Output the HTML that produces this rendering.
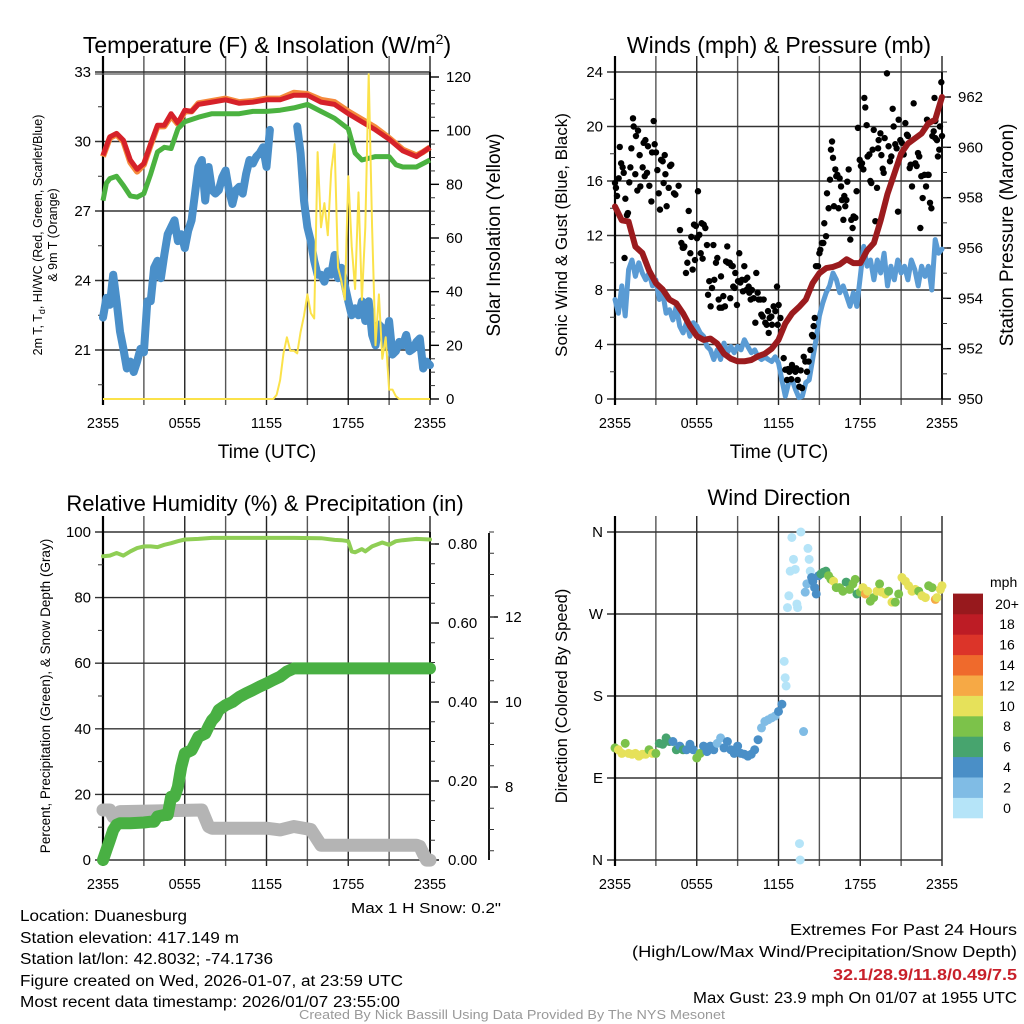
<!DOCTYPE html>
<html><head><meta charset="utf-8"><style>
html,body{margin:0;padding:0;background:#fff;}
svg{display:block;font-family:"Liberation Sans",Arial,sans-serif;}
</style></head><body>
<svg id="fig" width="1024" height="1024" viewBox="0 0 1024 1024" xmlns="http://www.w3.org/2000/svg">
<rect width="1024" height="1024" fill="#fff"/>
<g id="g-temp"></g>
<g id="g-wind"></g>
<g id="g-rh"></g>
<g id="g-dir"></g>

<text x="267" y="53" font-size="23" text-anchor="middle">Temperature (F) &amp; Insolation (W/m<tspan font-size="14" dy="-9">2</tspan><tspan dy="9">)</tspan></text>
<text x="779" y="53" font-size="23" text-anchor="middle">Winds (mph) &amp; Pressure (mb)</text>
<text x="265" y="511" font-size="22" text-anchor="middle">Relative Humidity (%) &amp; Precipitation (in)</text>
<text x="779" y="505" font-size="22" text-anchor="middle">Wind Direction</text>

<text x="267" y="458" font-size="19" text-anchor="middle">Time (UTC)</text>
<text x="779" y="458" font-size="19" text-anchor="middle">Time (UTC)</text>

<text transform="translate(42,235) rotate(-90)" font-size="12.5" text-anchor="middle">2m T, T<tspan font-size="9" dy="3">d</tspan><tspan dy="-3">, HI/WC (Red, Green, Scarlet/Blue)</tspan></text>
<text transform="translate(57,235) rotate(-90)" font-size="12.5" text-anchor="middle">&amp; 9m T (Orange)</text>
<text transform="translate(500,235) rotate(-90)" font-size="19" text-anchor="middle">Solar Insolation (Yellow)</text>
<text transform="translate(567,235) rotate(-90)" font-size="17" text-anchor="middle">Sonic Wind &amp; Gust (Blue, Black)</text>
<text transform="translate(1013,235) rotate(-90)" font-size="19" text-anchor="middle">Station Pressure (Maroon)</text>
<text transform="translate(50,696) rotate(-90)" font-size="13.5" text-anchor="middle">Percent, Precipitation (Green), &amp; Snow Depth (Gray)</text>
<text transform="translate(567,696) rotate(-90)" font-size="16.5" text-anchor="middle">Direction (Colored By Speed)</text>

<text x="501" y="913" font-size="15" text-anchor="end" textLength="150" lengthAdjust="spacingAndGlyphs">Max 1 H Snow: 0.2"</text>
<g font-size="15.5">
<text x="20" y="921" textLength="167" lengthAdjust="spacingAndGlyphs">Location: Duanesburg</text>
<text x="20" y="943" textLength="219" lengthAdjust="spacingAndGlyphs">Station elevation: 417.149 m</text>
<text x="20" y="964" textLength="253" lengthAdjust="spacingAndGlyphs">Station lat/lon: 42.8032; -74.1736</text>
<text x="20" y="986" textLength="383" lengthAdjust="spacingAndGlyphs">Figure created on Wed, 2026-01-07, at 23:59 UTC</text>
<text x="20" y="1007" textLength="380" lengthAdjust="spacingAndGlyphs">Most recent data timestamp: 2026/01/07 23:55:00</text>
</g>
<g font-size="16" text-anchor="end">
<text x="1017" y="935" textLength="227" lengthAdjust="spacingAndGlyphs">Extremes For Past 24 Hours</text>
<text x="1017" y="957" textLength="385" lengthAdjust="spacingAndGlyphs">(High/Low/Max Wind/Precipitation/Snow Depth)</text>
<text x="1017" y="980" font-weight="bold" fill="#c8202a" textLength="184" lengthAdjust="spacingAndGlyphs">32.1/28.9/11.8/0.49/7.5</text>
<text x="1017" y="1003" font-size="15.5" textLength="324" lengthAdjust="spacingAndGlyphs">Max Gust: 23.9 mph On 01/07 at 1955 UTC</text>
</g>
<text x="512" y="1019" font-size="12.5" fill="#999" text-anchor="middle" textLength="426" lengthAdjust="spacingAndGlyphs">Created By Nick Bassill Using Data Provided By The NYS Mesonet</text>
</svg>
<script>
// ---------- DATA ----------
const xTickLabels = ["2355","0555","1155","1755","2355"];
const xTickHours = [0,6,12,18,24];

const tempHours = [0,0.5,1,1.5,2,2.5,3,3.5,4,4.5,5,5.5,6,6.5,7,8,9,10,11,12,13,14,15,16,17,18,19,20,21,22,23,23.5,24];
const tempValues = [29.4,30.2,30.35,30.05,29.2,28.8,29.05,29.9,30.7,30.7,31.2,30.8,31.35,31.3,31.6,31.7,31.8,31.65,31.7,31.8,31.8,32.0,32.0,31.7,31.6,31.2,30.85,30.5,30.1,29.6,29.35,29.55,29.75];
const temp9mValues = [29.35,30.15,30.3,30.0,29.1,28.7,29.0,29.85,30.65,30.65,31.1,30.75,31.3,31.3,31.65,31.75,31.85,31.7,31.75,31.85,31.85,32.1,32.05,31.8,31.7,31.3,30.95,30.6,30.15,29.65,29.4,29.55,29.75];
const dewHours = [0,0.25,0.5,1,1.5,2,2.5,3,3.5,4,4.5,5,5.5,6,7,8,9,10,11,12,13,14,15,16,17,18,18.5,19,20,21,21.5,22,23,23.5,24];
const dewValues = [27.45,28.2,28.4,28.5,28.1,27.65,27.6,27.75,28.6,29.55,29.75,29.7,30.55,30.85,31.05,31.2,31.2,31.2,31.3,31.3,31.35,31.45,31.6,31.3,31.0,30.55,29.5,29.2,29.35,29.35,29.0,28.9,28.9,29.05,29.2];
const chillStep = 0.25;
const chillValues = [22.4,23.25,22.95,24.25,23.1,21.8,21.05,20.2,20.5,20.05,20.5,21.05,20.9,23.1,23.1,24.55,24.85,24.1,25.1,26.0,26.3,26.6,25.7,26.0,25.4,26.15,26.6,27.75,28.9,29.2,27.45,28.9,27.9,27.75,27.9,28.45,28.75,27.9,27.3,27.9,28.05,27.75,28.6,29.2,29.05,29.35,29.5,29.75,28.9,30.5,
null,null,null,null,null,null,null,
30.65,29.5,27.45,26.3,25.7,24.85,24.25,24.25,23.95,24.4,24.25,25.1,24.1,24.55,23.8,23.1,22.5,22.8,22.5,23.1,22.25,23.1,21.65,21.2,22.1,21.95,21.2,22.25,20.8,20.95,21.35,21.2,21.65,20.95,21.05,21.35,21.5,20.2,20.5,20.35];
const solarHours = [0,12.5,12.75,13,13.25,13.5,13.75,14,14.25,14.5,14.75,15,15.25,15.5,15.75,16,16.25,16.5,16.75,17,17.25,17.5,17.75,18,18.25,18.5,18.75,19,19.25,19.5,19.75,20,20.25,20.5,20.75,21,21.25,21.5,21.75,24];
const solarValues = [0,0,1.6,7,17,23,18,18,17,25,31,39,32,30,92,64,73,61,85,95,49,44,37,83,57,41,77,37,64,121,64,20,39,15,23,3.5,3.5,1,0,0];

const windStep = 0.25;
const windValues = [7.3,6.3,8.3,6.1,9.5,10.2,9.0,10.0,9.25,8.75,9.25,8.3,8.75,7.3,7.8,6.3,6.55,5.8,6.8,5.35,4.85,5.6,4.6,5.6,5.35,4.85,4.6,3.85,3.6,2.9,3.6,2.9,4.1,3.4,3.85,3.4,3.85,3.6,4.35,3.85,3.4,3.6,3.1,2.9,3.1,2.9,2.75,3.1,2.65,1.4,0.2,1.2,1.4,0.7,0.1,0.2,1.2,1.4,2.9,4.35,6.1,7.05,7.8,8.3,9.25,8.75,7.8,8.3,7.55,6.8,7.8,6.8,9.0,11.2,9.75,10.2,8.75,10.2,9.25,10.7,8.3,9.75,8.75,10.2,9.25,9.75,8.75,10.2,9.5,8.3,9.75,9.0,9.75,8.0,11.7,10.7,11.0];
const presHours = [0,0.5,1,1.5,2,2.5,3,3.5,4,4.5,5,5.5,6,6.5,7,7.5,8,8.5,9,9.5,10,10.5,11,11.5,12,12.5,13,13.5,14,14.5,15,15.5,16,16.5,17,17.5,18,18.5,19,19.5,20,20.5,21,21.5,22,22.5,23,23.5,24];
const presValues = [957.65,957.1,957.05,956.05,955.8,955.1,954.6,954.35,953.95,953.8,953.4,952.9,952.5,952.35,952.4,952.2,951.8,951.6,951.5,951.5,951.55,951.7,951.8,952.0,952.35,953.0,953.4,953.65,953.95,954.6,955.0,955.2,955.25,955.35,955.55,955.4,955.4,955.9,956.2,957.1,958.15,958.95,959.75,960.15,960.35,960.55,960.95,961.1,962.0];
const gustObs = [[0,15.85],[0.07,15.5],[0.15,14.9],[0.27,16.2],[0.35,18.5],[0.45,17.3],[0.56,17.0],[0.64,16.6],[0.7,10.35],[0.76,14.7],[0.88,13.5],[0.95,13.65],[1.05,15.9],[1.13,17.0],[1.2,18.4],[1.32,20.6],[1.37,20.0],[1.49,16.5],[1.54,19.3],[1.69,19.7],[1.64,15.3],[1.81,17.9],[1.86,15.6],[2.03,17.0],[2.1,18.8],[2.18,16.35],[2.23,19.0],[2.35,16.6],[2.42,18.55],[2.52,15.65],[2.67,14.5],[2.72,18.1],[2.84,20.4],[2.91,18.7],[3.01,18.1],[3.11,16.8],[3.21,15.1],[3.3,13.9],[3.38,17.55],[3.5,17.45],[3.57,15.85],[3.65,17.9],[3.7,16.5],[3.79,14.15],[3.94,15.5],[4.04,17.1],[4.13,17.2],[4.33,15.1],[4.43,15.0],[4.67,15.65],[4.77,12.4],[4.87,11.45],[4.97,11.1],[5.04,11.1],[5.09,11.2],[5.21,9.25],[5.31,10.0],[5.41,13.8],[5.53,10.7],[5.6,11.9],[5.7,9.5],[5.8,12.8],[5.87,10.2],[5.94,12.7],[6.02,11.8],[6.09,15.25],[6.19,12.05],[6.29,10.7],[6.36,12.9],[6.43,10.3],[6.51,12.8],[6.63,12.55],[6.75,11.3],[6.83,7.65],[6.92,8.65],[7.02,6.8],[7.12,8.15],[7.22,11.3],[7.29,8.75],[7.41,10.0],[7.51,10.35],[7.61,7.3],[7.68,6.7],[7.78,9.0],[7.85,6.7],[7.95,7.55],[8.07,6.8],[8.15,10.1],[8.24,11.2],[8.29,10.0],[8.42,10.0],[8.46,7.4],[8.54,9.8],[8.64,9.75],[8.68,8.25],[8.78,8.15],[8.83,9.25],[8.95,6.9],[9.03,8.65],[9.12,10.7],[9.2,8.55],[9.32,8.75],[9.39,7.9],[9.49,9.75],[9.56,8.75],[9.64,8.0],[9.71,8.9],[9.81,8.25],[9.86,7.8],[9.96,7.3],[10.05,8.0],[10.18,7.4],[10.3,5.6],[10.37,9.25],[10.47,7.8],[10.54,7.3],[10.67,7.3],[10.74,6.2],[10.84,6.05],[10.91,7.3],[11.03,5.6],[11.13,5.45],[11.23,6.45],[11.28,4.85],[11.35,5.95],[11.47,6.05],[11.52,5.45],[11.64,6.8],[11.77,6.45],[11.89,8.25],[11.94,5.45],[12.01,6.9],[12.14,5.95],[12.21,4.95],[12.38,3.0],[12.5,2.15],[12.63,1.4],[12.7,2.2],[12.8,2.0],[12.94,1.45],[12.99,2.5],[13.11,2.15],[13.24,2.0],[13.31,2.25],[13.41,1.4],[13.53,0.9],[13.63,2.1],[13.73,0.8],[13.85,3.1],[13.97,2.75],[14.09,2.0],[14.21,2.75],[14.34,3.6],[14.46,4.7],[14.53,4.6],[14.58,5.35],[14.66,5.95],[14.75,9.75],[14.9,9.75],[15.0,10.7],[15.07,10.95],[15.19,11.45],[15.29,11.45],[15.36,12.9],[15.49,11.95],[15.56,15.1],[15.68,14.0],[15.78,16.1],[15.85,18.3],[15.93,18.9],[16.0,17.7],[16.07,14.15],[16.17,16.85],[16.24,16.35],[16.32,16.45],[16.41,14.0],[16.49,16.2],[16.59,15.6],[16.66,14.6],[16.76,13.15],[16.83,14.9],[16.9,14.15],[16.98,14.6],[17.05,15.95],[17.15,16.85],[17.27,11.7],[17.34,13.15],[17.44,12.55],[17.51,13.4],[17.64,13.3],[17.73,15.25],[17.83,19.9],[17.96,17.55],[18.05,17.1],[18.13,17.3],[18.23,16.85],[18.3,22.1],[18.37,21.4],[18.47,20.1],[18.54,17.8],[18.67,17.95],[18.74,16.0],[18.81,15.85],[18.91,18.3],[18.99,19.75],[19.11,13.05],[19.23,15.5],[19.31,18.4],[19.35,19.0],[19.48,19.5],[19.55,17.9],[19.65,16.9],[19.72,16.6],[19.79,19.15],[19.96,23.9],[20.08,18.55],[20.18,17.45],[20.28,17.8],[20.38,21.3],[20.45,20.0],[20.57,18.7],[20.67,18.4],[20.77,13.75],[20.82,20.5],[20.94,19.0],[21.06,18.8],[21.19,17.95],[21.31,20.25],[21.43,19.4],[21.5,19.3],[21.63,16.95],[21.7,17.2],[21.8,15.6],[21.92,21.7],[22.04,17.3],[22.14,17.1],[22.24,18.05],[22.33,17.8],[22.41,12.55],[22.48,16.35],[22.58,14.75],[22.71,16.45],[22.83,15.6],[22.9,20.5],[22.95,16.45],[23.02,16.45],[23.12,14.4],[23.22,14.0],[23.29,19.3],[23.39,19.65],[23.45,22.1],[23.51,19.15],[23.51,20.4],[23.63,19.0],[23.7,17.8],[23.8,18.3],[23.85,20.0],[23.95,23.25],[24.0,19.3]];

const rhHours = [0,0.5,1,1.5,2,2.5,3,3.5,4,4.5,5,5.5,6,7,8,10,12,14,16,17,17.5,18,18.25,18.5,19,19.25,19.75,20.5,21,21.5,22,23,24];
const rhValues = [92.6,92.8,93.6,92.8,94.1,95.1,95.6,95.6,95.4,96.1,96.6,97.2,97.7,97.9,98.2,98.2,98.2,98.2,98.1,97.6,97.5,97.2,94.1,93.8,94.8,94.1,95.6,96.8,96.1,97.2,97.5,97.9,97.7];
const precipHours = [0,0.25,0.5,0.75,1,1.25,2,3,3.5,3.75,4,4.5,4.75,5,5.25,5.5,5.75,6,6.5,7,7.5,7.75,8,8.25,8.5,9,9.5,10,10.5,11,11.5,12,12.5,13,13.5,14,14.5,24];
const precipValues = [0,0.025,0.05,0.076,0.089,0.093,0.093,0.095,0.097,0.097,0.11,0.114,0.114,0.16,0.16,0.185,0.236,0.27,0.278,0.312,0.32,0.338,0.354,0.363,0.38,0.392,0.40,0.413,0.422,0.43,0.439,0.447,0.456,0.464,0.477,0.485,0.485,0.485];
const snowHours = [0,0.5,0.75,1.25,7.25,7.75,8,12,13,14,15.25,16,23,23.25,23.5,23.75,24];
const snowValues = [7.46,7.46,7.3,7.42,7.46,7.07,7.03,7.03,6.99,7.07,7.0,6.63,6.63,6.6,6.43,6.28,6.28];

const dirObs = [[0,123],[0.25,121],[0.5,117],[0.75,128],[1,117],[1.25,116],[1.5,117],[1.75,114],[2,116],[2.25,116],[2.5,121],[2.75,117],[3,117],[3.25,128],[3.5,127],[3.75,134],[4,130],[4.25,130],[4.5,121],[4.75,125],[5,121],[5.25,121],[5.5,127],[5.75,121],[6,112],[6.25,117],[6.5,125],[6.75,119],[7,125],[7.25,121],[7.5,128],[7.75,134],[8,123],[8.25,130],[8.5,121],[8.75,117],[9,125],[9.25,117],[9.5,116],[9.75,114],[10,116],[10.25,121],[10.5,132],[10.75,145],[11,152],[11.25,154],[11.5,156],[11.75,158],[12,163],[12.25,171],[12.42,218],[12.49,200],[12.56,191],[12.66,277],[12.76,290],[12.86,317],[12.98,354],[13.1,330],[13.23,319],[13.35,281],[13.4,277],[13.54,18],[13.59,0],[13.64,360],[13.84,141],[13.96,294],[14.08,303],[14.16,342],[14.25,330],[14.33,317],[14.43,310],[14.52,306],[14.65,299],[14.77,292],[14.94,312],[15.11,314],[15.31,316],[15.48,317],[15.67,312],[15.85,308],[16.04,306],[16.24,299],[16.48,299],[16.73,295],[16.97,305],[17.22,297],[17.46,303],[17.63,308],[17.76,292],[18.0,294],[18.2,299],[18.37,292],[18.54,295],[18.74,284],[18.98,288],[19.23,295],[19.42,303],[19.59,294],[19.84,292],[20.08,295],[20.33,283],[20.57,283],[20.82,292],[21.06,310],[21.31,306],[21.55,301],[21.8,295],[22.04,297],[22.29,295],[22.53,290],[22.78,288],[23.02,301],[23.27,299],[23.51,286],[23.63,288],[23.88,297],[24.0,301]];
const dirSpeeds = [8.5,10.5,10.5,8.5,10.5,10.5,10.5,10.5,10.5,10.5,8.5,10.5,8.5,6.5,6.5,6.5,6.5,4.5,6.5,4.5,6.5,4.5,4.5,4.5,8.5,8.5,4.5,4.5,4.5,4.5,2.5,2.5,4.5,4.5,4.5,4.5,4.5,4.5,4.5,4.5,4.5,4.5,4.5,2.5,2.5,2.5,2.5,2.5,4.5,4.5,0.5,0.5,0.5,0.5,0.5,0.5,0.5,0.5,0.5,0.5,0.5,0.5,0.5,0.5,2.5,2.5,2.5,0.5,0.5,0.5,4.5,4.5,4.5,4.5,4.5,6.5,6.5,6.5,8.5,8.5,10.5,8.5,8.5,8.5,6.5,8.5,8.5,8.5,6.5,8.5,10.5,12.5,10.5,8.5,8.5,10.5,8.5,10.5,10.5,8.5,10.5,8.5,8.5,10.5,10.5,10.5,10.5,10.5,8.5,10.5,10.5,8.5,8.5,12.5,10.5,10.5,10.5];
const speedBinLabels = ["0","2","4","6","8","10","12","14","16","18","20+"];
const speedBinColors = ["#b5e4f8","#80bce5","#4a8fc7","#47a46e","#7cc24a","#e6e15a","#f6a945","#ef6a2c","#dc3429","#bd1c25","#97191d"];

// ---------- HELPERS ----------
const NS = "http://www.w3.org/2000/svg";
function lin(d0,d1,p0,p1){return v=>p0+(v-d0)*(p1-p0)/(d1-d0);}
function mk(parent,tag,attrs){const e=document.createElementNS(NS,tag);for(const k in attrs)e.setAttribute(k,attrs[k]);parent.appendChild(e);return e;}
function pathFrom(xs,ys,xf,yf){let d="",pen=false;for(let i=0;i<xs.length;i++){if(ys[i]===null||ys[i]===undefined){pen=false;continue;}d+=(pen?"L":"M")+xf(xs[i]).toFixed(1)+","+yf(ys[i]).toFixed(1);pen=true;}return d;}
function stepHours(n,step){const a=[];for(let i=0;i<n;i++)a.push(i*step);return a;}

function frame(g,x0,x1,yTop,yBot,xf,hLines,yf){
  for(let h=0;h<=24;h+=3){
    const l=mk(g,"line",{x1:xf(h),x2:xf(h),y1:yTop-16,y2:yBot+6,stroke:(h%6===0)?"#222":"#555","stroke-width":1.4});
    
    
  }
  hLines.forEach(v=>{
    const l=mk(g,"line",{x1:x0-8,x2:x1,y1:yf(v),y2:yf(v),stroke:"#333","stroke-width":1.4});
    
    
  });
  const ax=mk(g,"line",{x1:x0,x2:x0,y1:yTop-16,y2:yBot+6,stroke:"#000","stroke-width":2.2});
  
  
  xTickHours.forEach((h,i)=>{
    const t=mk(g,"text",{x:xf(h),y:yBot+29,"font-size":14.5,"text-anchor":"middle"});
    t.textContent=xTickLabels[i];
    
    
  });
}
function leftLabels(g,x0,yf,vals,labels,minor){
  vals.forEach((v,i)=>{
    const t=mk(g,"text",{x:x0-12,y:yf(v)+5,"font-size":15,"text-anchor":"end"});
    t.textContent=labels[i];
    
    
  });
  minor.forEach(v=>{
    const l=mk(g,"line",{x1:x0-5,x2:x0,y1:yf(v),y2:yf(v),stroke:"#333","stroke-width":1});
    
    
  });
}
function rightAxis(g,xa,yTop,yBot,yf,vals,labels,minor,lx){
  const ax=mk(g,"line",{x1:xa,x2:xa,y1:yTop,y2:yBot,stroke:"#000","stroke-width":1.8});
  
  
  vals.forEach((v,i)=>{
    const l=mk(g,"line",{x1:xa,x2:xa+9,y1:yf(v),y2:yf(v),stroke:"#000","stroke-width":1.4});
    
    
    const t=mk(g,"text",{x:lx,y:yf(v)+5,"font-size":15});
    t.textContent=labels[i];
    
    
  });
  minor.forEach(v=>{
    const l=mk(g,"line",{x1:xa,x2:xa+5,y1:yf(v),y2:yf(v),stroke:"#333","stroke-width":1});
    
    
  });
}
function range(a,b,s){const r=[];for(let v=a;v<=b+1e-9;v+=s)r.push(+v.toFixed(4));return r;}

// ---------- PANEL 1: TEMPERATURE ----------
(function(){
  const g=document.getElementById("g-temp");
  const x=lin(0,24,103,430), yT=lin(21,33,350,72), yS=lin(0,120,399,77);
  frame(g,103,430,72,399,x,[33,30,27,24,21],yT);
  const topL=mk(g,"line",{x1:95,x2:430,y1:74,y2:74,stroke:"#555","stroke-width":1.2});
  
  
  const bot=mk(g,"line",{x1:103,x2:430,y1:399,y2:399,stroke:"#000","stroke-width":1.6});
  
  
  leftLabels(g,103,yT,[33,30,27,24,21],["33","30","27","24","21"],[31.5,28.5,25.5,22.5,19.5]);
  rightAxis(g,430,72,399,yS,range(0,120,20),["0","20","40","60","80","100","120"],range(10,110,20).concat(range(5,115,10)),446);
  const p1=mk(g,"path",{d:pathFrom(stepHours(chillValues.length,chillStep),chillValues,x,yT),fill:"none",stroke:"#4a8fc9","stroke-width":8,"stroke-linejoin":"round","stroke-linecap":"round"});
  
  
  const p2=mk(g,"path",{d:pathFrom(tempHours,temp9mValues,x,yT),fill:"none",stroke:"#f58a3c","stroke-width":6,"stroke-linejoin":"round"});
  
  
  const p3=mk(g,"path",{d:pathFrom(tempHours,tempValues,x,yT),fill:"none",stroke:"#d6212a","stroke-width":5,"stroke-linejoin":"round"});
  
  
  const p4=mk(g,"path",{d:pathFrom(dewHours,dewValues,x,yT),fill:"none",stroke:"#4bb240","stroke-width":5,"stroke-linejoin":"round"});
  
  
  const p5=mk(g,"path",{d:pathFrom(solarHours,solarValues,x,yS),fill:"none",stroke:"#fbe24a","stroke-width":2,"stroke-linejoin":"round"});
  
  
})();

// ---------- PANEL 2: WIND ----------
(function(){
  const g=document.getElementById("g-wind");
  const x=lin(0,24,615,942), yW=lin(0,24,399,72), yP=lin(950,962,399,97);
  frame(g,615,942,72,399,x,[24,20,16,12,8,4,0],yW);
  leftLabels(g,615,yW,[24,20,16,12,8,4,0],["24","20","16","12","8","4","0"],[22,18,14,10,6,2]);
  rightAxis(g,942,72,399,yP,range(950,962,2),["950","952","954","956","958","960","962"],range(951,963,1),958);
  const p1=mk(g,"path",{d:pathFrom(stepHours(windValues.length,windStep),windValues,x,yW),fill:"none",stroke:"#5a9bd4","stroke-width":5,"stroke-linejoin":"round","stroke-linecap":"round"});
  
  
  gustObs.forEach(o=>{
    const c=mk(g,"circle",{cx:x(o[0]),cy:yW(o[1]),r:3.2,fill:"#000"});
    
    
  });
  const p2=mk(g,"path",{d:pathFrom(presHours,presValues,x,yP),fill:"none",stroke:"#9b1b1e","stroke-width":6,"stroke-linejoin":"round","stroke-linecap":"round"});
  
  
})();

// ---------- PANEL 3: RH / PRECIP / SNOW ----------
(function(){
  const g=document.getElementById("g-rh");
  const x=lin(0,24,103,430), yPct=lin(0,100,860,532), yPr=lin(0,0.8,860,544), ySn=lin(8,12,787,617);
  frame(g,103,430,532,860,x,[100,80,60,40,20,0],yPct);
  leftLabels(g,103,yPct,[100,80,60,40,20,0],["100","80","60","40","20","0"],[90,70,50,30,10]);
  rightAxis(g,430,532,860,yPr,range(0,0.8,0.2),["0.00","0.20","0.40","0.60","0.80"],range(0.05,0.8,0.05),448);
  rightAxis(g,489,533,860,ySn,[8,10,12],["8","10","12"],range(6.5,14,0.5),505);
  const p3=mk(g,"path",{d:pathFrom(snowHours,snowValues,x,ySn),fill:"none",stroke:"#b4b4b4","stroke-width":13,"stroke-linejoin":"round","stroke-linecap":"round"});
  
  
  const p2=mk(g,"path",{d:pathFrom(precipHours,precipValues,x,yPr),fill:"none",stroke:"#49b043","stroke-width":12,"stroke-linejoin":"round","stroke-linecap":"round"});
  
  
  const p1=mk(g,"path",{d:pathFrom(rhHours,rhValues,x,yPct),fill:"none",stroke:"#8fce55","stroke-width":4,"stroke-linejoin":"round","stroke-linecap":"round"});
  
  
})();

// ---------- PANEL 4: DIRECTION ----------
(function(){
  const g=document.getElementById("g-dir");
  const x=lin(0,24,615,942), yD=lin(0,360,860,532);
  frame(g,615,942,532,860,x,[360,270,180,90,0],yD);
  leftLabels(g,615,yD,[360,270,180,90,0],["N","W","S","E","N"],[]);
  function colorFor(s){let i=Math.floor(s/2);if(i>10)i=10;if(i<0)i=0;return speedBinColors[i];}
  dirObs.forEach((o,i)=>{
    const c=mk(g,"circle",{cx:x(o[0]),cy:yD(o[1]),r:4.5,fill:colorFor(dirSpeeds[i])});
    
    
  });
  const bh=20.4, yb=818;
  const lt=mk(g,"text",{x:990,y:587,"font-size":14});
  lt.textContent="mph";
  
  
  speedBinColors.forEach((col,i)=>{
    const r=mk(g,"rect",{x:953,y:yb-(i+1)*bh,width:30,height:bh+0.3,fill:col});
    
    
    const t=mk(g,"text",{x:1007,y:yb-(i+0.5)*bh+5,"font-size":14,"text-anchor":"middle"});
    t.textContent=speedBinLabels[i];
    
    
  });
})();
</script>
</body></html>
